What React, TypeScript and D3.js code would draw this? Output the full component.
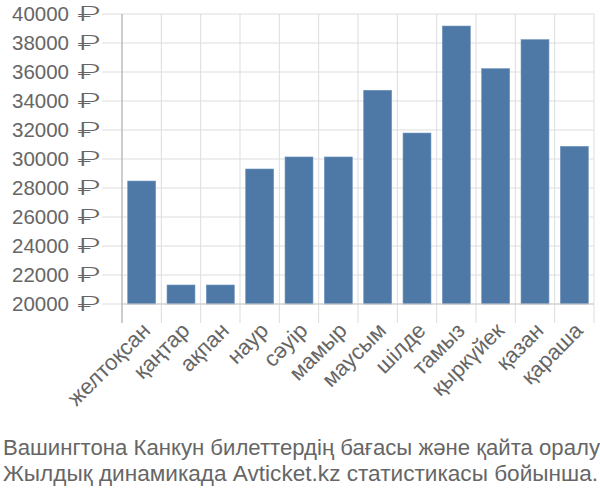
import React from "react";
import * as d3 from "d3";

const months = ["желтоқсан","қаңтар","ақпан","наур","сәуір","мамыр","маусым","шілде","тамыз","қыркүйек","қазан","қараша"];
const prices = [28480, 21310, 21310, 29310, 30140, 30140, 34740, 31790, 39170, 36230, 38230, 30870];
const yTicks = [20000,22000,24000,26000,28000,30000,32000,34000,36000,38000,40000];
const currency = "₽";
const titleLines = ["Вашингтона Канкун билеттердің бағасы және қайта оралу","Жылдық динамикада Avticket.kz статистикасы бойынша."];

export default function App() {
  const W = 600, H = 500;
  const left = 122, right = 594, top = 14, bottom = 304;
  const x = d3.scaleBand<string>().domain(months).range([left, right]).paddingInner(0.29).paddingOuter(0.145);
  const xg = d3.scaleBand<string>().domain(months).range([left, right]);
  const y = d3.scaleLinear().domain([20000, 40000]).range([bottom, top]);
  const font = "'Liberation Sans', Arial, sans-serif";
  const fill = "#666666";
  return (
    <svg width={W} height={H} style={{position:"absolute", left:0, top:0}} fontFamily={font}>
      {yTicks.map(t => (
        <line key={"h"+t} x1={102} x2={right} y1={y(t)} y2={y(t)} stroke="#dddddd" strokeWidth={1}/>
      ))}
      {months.map(m => (
        <line key={"v"+m} x1={xg(m)!} x2={xg(m)!} y1={top} y2={323} stroke="#dddddd" strokeWidth={1}/>
      ))}
      <line x1={right} x2={right} y1={top} y2={323} stroke="#dddddd"/>
      {months.map((m,i) => (
        <rect key={m} x={x(m)!} y={y(prices[i])} width={x.bandwidth()} height={bottom - y(prices[i])} fill="#4e79a7" stroke="#6e92bd" strokeWidth={0.6}/>
      ))}
      <line x1={left} x2={left} y1={top} y2={323} stroke="#aaaaaa" strokeWidth={1}/>
      <line x1={left} x2={right} y1={bottom} y2={bottom} stroke="#cccccc" strokeWidth={1}/>
      {yTicks.map(t => (
        <g key={"t"+t}>
          <text x={69} y={y(t)} dy="0.35em" textAnchor="end" fontSize={20.5} fill={fill}>{t}</text>
          <text transform={`translate(77.5,${y(t)}) scale(1.75,1)`} dy="0.35em" fontSize={20.5} fontFamily="Roboto, 'Liberation Sans', sans-serif" fontWeight={300} fill={fill}>{currency}</text>
        </g>
      ))}
      {months.map(m => {
        const cx = xg(m)! + xg.bandwidth()/2 - 1;
        return <text key={"l"+m} transform={`translate(${cx},${321}) rotate(-45)`} textAnchor="end" dy="0.7em" fontSize={22} fill={fill}>{m}</text>;
      })}
      {titleLines.map((l,i) => (
        <text key={"ti"+i} x={3} y={455 + i*26} fontSize={21.5} fill={fill} textLength={i === 0 ? 597 : 595} lengthAdjust="spacingAndGlyphs">{l}</text>
      ))}
    </svg>
  );
}
